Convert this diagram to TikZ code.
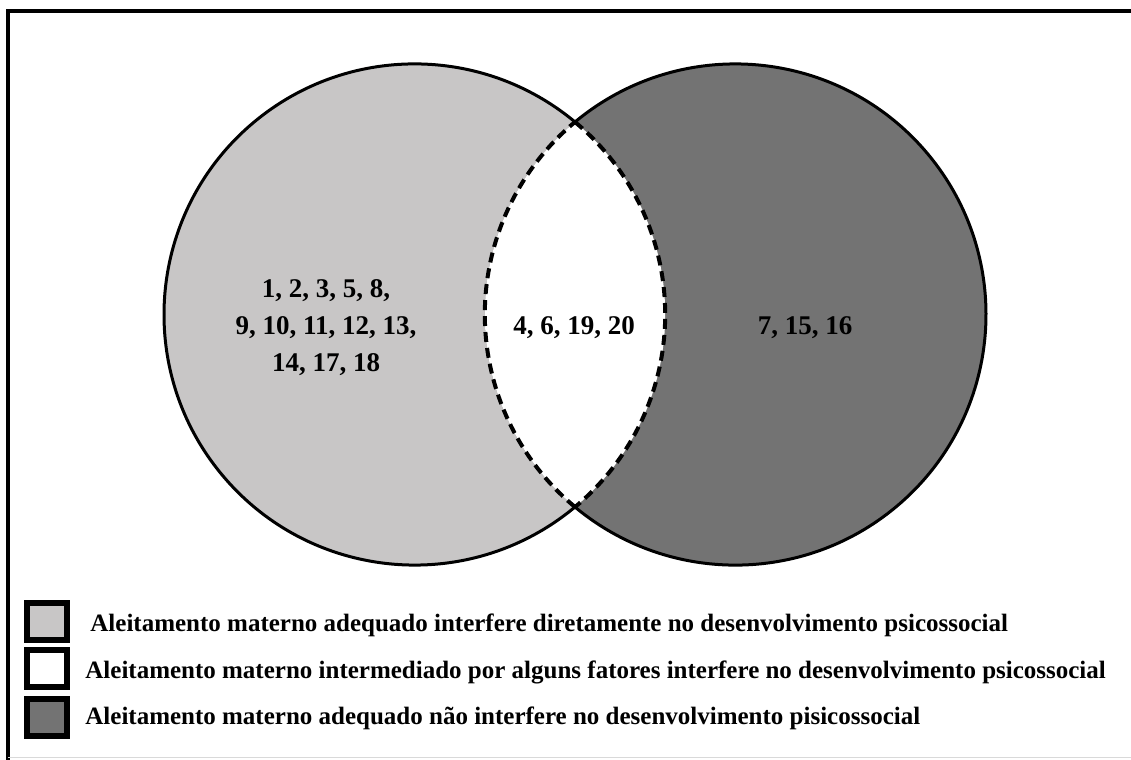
\documentclass[tikz,border=0pt]{standalone}
\usepackage{fontspec}
\setmainfont{Liberation Serif}
\definecolor{lightfill}{RGB}{200,198,198}
\definecolor{darkfill}{RGB}{115,115,115}
\tikzset{
  outline/.style={line width=1.5pt, black},
  lensline/.style={line width=2pt, black, dash pattern=on 5pt off 3pt},
  numtext/.style={font=\fontsize{13.5}{18.5}\selectfont\bfseries, align=center, inner sep=0pt},
  legtext/.style={font=\fontsize{12.5}{14}\selectfont\bfseries, anchor=west, inner sep=0pt},
  legbox/.style={line width=3pt, draw=black, minimum width=20pt, minimum height=18.5pt, inner sep=0pt},
}
\begin{document}
\begin{tikzpicture}[x=0.5pt,y=-0.5pt]
\useasboundingbox (0,0) rectangle (1131,760);
% frame
\coordinate (FTL) at (8,10.5);
\coordinate (FTR) at (1131,10.5);
\coordinate (FBL) at (8,760);
\draw[line width=2pt] (FBL) -- (FTL) -- (FTR);
\draw[line width=0.5pt, black!15] (8,757.5) -- (1131,757.5);
% circles
\coordinate (L) at (414.6,314.5);
\coordinate (R) at (735.4,314.5);
\fill[lightfill] (L) circle[radius=250.6];
\fill[darkfill] (R) circle[radius=250.6];
\begin{scope}
  \clip (L) circle[radius=250.6];
  \fill[white] (R) circle[radius=250.6];
\end{scope}
\coordinate (T) at (575,122);
\coordinate (B) at (575,507);
% outer solid arcs
\draw[outline] (B) arc[start angle=50.2, end angle=309.8, radius=250.6];
\draw[outline] (T) arc[start angle=-129.8, end angle=129.8, radius=250.6];
% dashed lens
\draw[lensline] (T) arc[start angle=-50.2, end angle=50.2, radius=250.6];
\draw[lensline] (B) arc[start angle=129.8, end angle=230.2, radius=250.6];
% numbers
\node[numtext] (nl) at (326,328) {1, 2, 3, 5, 8,\\9, 10, 11, 12, 13,\\14, 17, 18};
\node[numtext] (nm) at (574,328) {4, 6, 19, 20};
\node[numtext] (nr) at (805,328) {7, 15, 16};
% legend
\node[legbox, fill=lightfill] (b1) at (46.5,621.5) {};
\node[legbox, fill=white] (b2) at (46.5,668.5) {};
\node[legbox, fill=darkfill] (b3) at (46.5,717.5) {};
\node[legtext] (t1) at (90,625) {Aleitamento materno adequado interfere diretamente no desenvolvimento psicossocial};
\node[legtext] (t2) at (85,672) {Aleitamento materno intermediado por alguns fatores interfere no desenvolvimento psicossocial};
\node[legtext] (t3) at (85,718) {Aleitamento materno adequado não interfere no desenvolvimento pisicossocial};
\end{tikzpicture}
\end{document}
